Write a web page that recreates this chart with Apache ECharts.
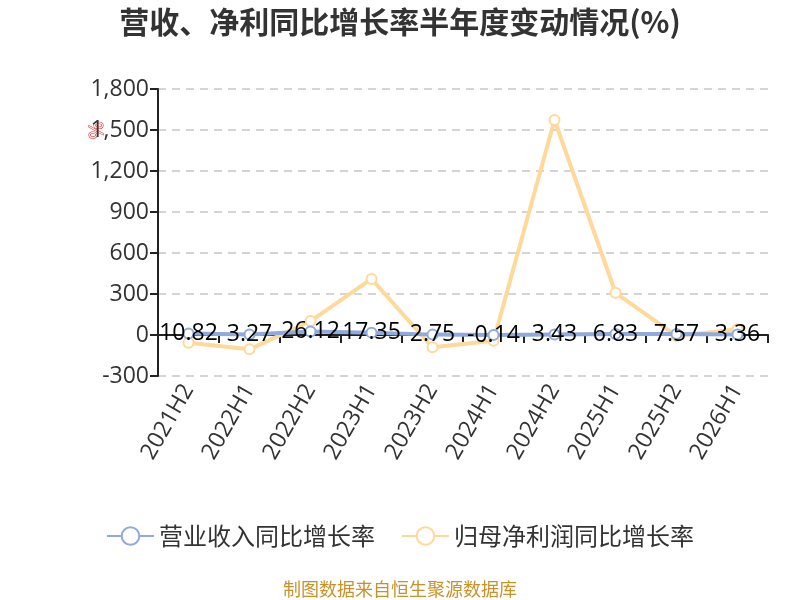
<!DOCTYPE html>
<html>
<head>
<meta charset="utf-8">
<script src="https://cdn.jsdelivr.net/npm/echarts@6/dist/echarts.min.js"></script>
<style>html,body{margin:0;padding:0;background:#fff}#c{width:800px;height:600px}</style>
</head>
<body>
<div id="c"></div>
<script>
var categories = ['2021H2','2022H1','2022H2','2023H1','2023H2','2024H1','2024H2','2025H1','2025H2','2026H1'];
var revenueGrowth = [10.82, 3.27, 26.12, 17.35, 2.75, -0.14, 3.43, 6.83, 7.57, 3.36];
var profitGrowth = [-56, -105, 102, 410, -90, -42, 1573, 309, -7, 42];
var yTicks = {min: -300, max: 1800, interval: 300};

var chart = echarts.init(document.getElementById('c'));
var font = '"Noto Sans CJK SC", "Noto Sans", sans-serif';
var numFont = '"Open Sans", "Noto Sans", sans-serif';
chart.setOption({
  animation: false,
  title: {
    text: '营收、净利同比增长率半年度变动情况(%)',
    left: 'center', top: 2,
    textStyle: {fontSize: 30, fontWeight: 'bold', color: '#333', fontFamily: font}
  },
  legend: {
    bottom: 47, left: 'center',
    itemWidth: 47, itemHeight: 22, itemGap: 26,
    textStyle: {fontSize: 24, color: '#333', fontFamily: font},
    data: ['营业收入同比增长率', '归母净利润同比增长率']
  },
  graphic: [
    {type: 'text', left: 86, top: 121, rotation: Math.PI / 2,
     style: {text: '%', fill: '#fff', stroke: '#e00', lineWidth: 1, fontSize: 19, fontFamily: font}},
    {type: 'text', left: 'center', bottom: 2,
     style: {text: '制图数据来自恒生聚源数据库', fill: '#c8922a', fontSize: 18, fontFamily: font}}
  ],
  grid: {left: 158, right: 32, top: 89, bottom: 224, containLabel: false},
  xAxis: [
    {
      type: 'category', data: categories, boundaryGap: true,
      axisLine: {onZero: true, lineStyle: {color: '#222', width: 2}},
      axisTick: {show: true, length: 8, lineStyle: {color: '#222', width: 2}},
      axisLabel: {show: false}
    },
    {
      type: 'category', data: categories, boundaryGap: true, position: 'bottom',
      axisLine: {show: false, onZero: false}, axisTick: {show: false},
      axisLabel: {rotate: 60, fontSize: 23, color: '#333', margin: 10, fontFamily: numFont, interval: 0}
    }
  ],
  yAxis: {
    type: 'value', min: yTicks.min, max: yTicks.max, interval: yTicks.interval,
    axisLine: {show: true, lineStyle: {color: '#222', width: 2}},
    axisTick: {show: true, length: 8, lineStyle: {color: '#222', width: 2}},
    axisLabel: {fontSize: 23, color: '#333', fontFamily: numFont, margin: 9},
    splitLine: {show: true, lineStyle: {type: [8, 6], color: '#c8c8c8', width: 1.5}}
  },
  series: [
    {
      name: '营业收入同比增长率', type: 'line', data: revenueGrowth,
      symbol: 'emptyCircle', symbolSize: 10,
      itemStyle: {color: '#8FAADC', borderWidth: 2},
      lineStyle: {color: '#8FAADC', width: 4},
      label: {show: true, position: 'inside', color: '#000', fontSize: 23, fontFamily: numFont},
      z: 3
    },
    {
      name: '归母净利润同比增长率', type: 'line', data: profitGrowth,
      symbol: 'emptyCircle', symbolSize: 10,
      itemStyle: {color: '#FFD99A', borderWidth: 2},
      lineStyle: {color: '#FFD99A', width: 4},
      z: 2
    }
  ]
});
</script>
</body>
</html>
